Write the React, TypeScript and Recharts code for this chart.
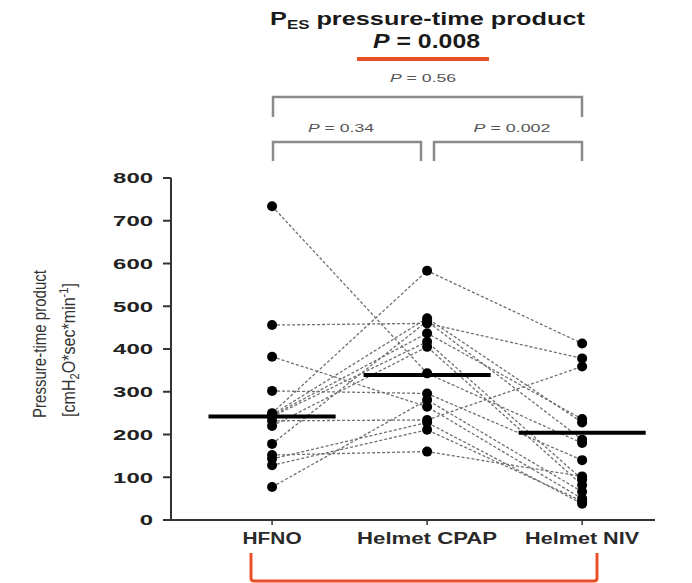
import React from 'react';
import { ComposedChart, Line, XAxis, YAxis, ReferenceLine } from 'recharts';

const categories = ['HFNO', 'Helmet CPAP', 'Helmet NIV'];
// one value per patient, same patient order in each array
const hfno = [734, 456, 382, 302, 250, 246, 244, 242, 232, 220, 178, 143, 128, 152, 77];
const helmetCpap = [343, 460, 265, 296, 583, 472, 437, 417, 234, 405, 465, 228, 211, 160, 281];
const helmetNiv = [180, 378, 50, 140, 413, 228, 236, 95, 359, 82, 188, 38, 44, 102, 66];
const medians = [242, 339, 204];
const yTicks = [0, 100, 200, 300, 400, 500, 600, 700, 800];
const catTicks = [0, 1, 2];
const pComparisons = ['P = 0.56', 'P = 0.34', 'P = 0.002'];
const overallP = 'P = 0.008';

const series = [hfno, helmetCpap, helmetNiv];
const patientKeys = hfno.map((_, k) => 'p' + k);
const rows = categories.map((c, i) => {
  const r: any = { x: i, name: c };
  series[i].forEach((v, k) => { r['p' + k] = v; });
  return r;
});

const FONT = 'Liberation Sans, Arial, Helvetica, sans-serif';
const xLabelWidths = [59, 140, 114];

const YTick = (props: any) => {
  const { x, y, payload } = props;
  const s = String(payload.value);
  return (
    <text x={x} y={y} dy="0.355em" textAnchor="end" fontFamily={FONT} fontWeight="bold"
      fontSize={15} fill="#222" textLength={s.length * 13.3} lengthAdjust="spacingAndGlyphs">{s}</text>
  );
};

const XTick = (props: any) => {
  const { x, y, payload } = props;
  const i = Math.round(payload.value);
  return (
    <text x={x} y={y} dy="0.71em" textAnchor="middle" fontFamily={FONT} fontWeight="bold"
      fontSize={16} fill="#2a2a2a" textLength={xLabelWidths[i]} lengthAdjust="spacingAndGlyphs">{categories[i]}</text>
  );
};

export default function App() {
  return (
    <div style={{ position: 'absolute', left: 0, top: 0, width: 692, height: 583, background: '#fff' }}>
      <ComposedChart width={692} height={583} data={rows}
        margin={{ top: 178, right: 37, bottom: 33, left: 111 }}>
        <XAxis type="number" dataKey="x" domain={[-0.652, 2.47]} ticks={catTicks} allowDataOverflow
          axisLine={{ stroke: '#333', strokeWidth: 2 }} tickLine={{ stroke: '#333', strokeWidth: 1.5 }}
          tickSize={5} tickMargin={8} height={30} tick={<XTick />} interval={0} />
        <YAxis type="number" domain={[0, 800]} ticks={yTicks} width={60}
          axisLine={{ stroke: '#333', strokeWidth: 2 }} tickLine={{ stroke: '#333', strokeWidth: 2 }}
          tickSize={8} tickMargin={10} tick={<YTick />} interval={0} />
        {patientKeys.map((k) => (
          <Line key={k} dataKey={k} type="linear" stroke="#6f6f6f" strokeWidth={1.3} strokeDasharray="3 2"
            dot={{ r: 5, fill: '#000', stroke: '#000', strokeWidth: 0 }} activeDot={false}
            isAnimationActive={false} />
        ))}
        {medians.map((m, i) => (
          <ReferenceLine key={'m' + i} segment={[{ x: i - 0.41, y: m }, { x: i + 0.41, y: m }]}
            stroke="#000" strokeWidth={4} />
        ))}
      </ComposedChart>
      <svg width={692} height={583} style={{ position: 'absolute', left: 0, top: 0, pointerEvents: 'none' }}>
        {/* title */}
        <text x={270} y={25} fontFamily={FONT} fontWeight="bold" fontSize={18} fill="#1a1a1a"
          textLength={315} lengthAdjust="spacingAndGlyphs">
          P<tspan fontSize={12} dy={4}>ES</tspan><tspan dy={-4}> pressure-time product</tspan>
        </text>
        <text x={373} y={48} fontFamily={FONT} fontWeight="bold" fontSize={20} fill="#1a1a1a"
          textLength={107} lengthAdjust="spacingAndGlyphs">
          <tspan fontStyle="italic">P</tspan> = 0.008
        </text>
        <line x1={357} x2={489} y1={59} y2={59} stroke="#e8502a" strokeWidth={4} />
        {/* comparison brackets */}
        <text x={423} y={82} textAnchor="middle" fontFamily={FONT} fontSize={11} fill="#555"
          textLength={66} lengthAdjust="spacingAndGlyphs">
          <tspan fontStyle="italic">P</tspan> = 0.56
        </text>
        <path d="M273 117 V97 H582 V117" fill="none" stroke="#8a8a8a" strokeWidth={2.5} />
        <text x={341} y={132} textAnchor="middle" fontFamily={FONT} fontSize={11} fill="#555"
          textLength={66} lengthAdjust="spacingAndGlyphs">
          <tspan fontStyle="italic">P</tspan> = 0.34
        </text>
        <text x={512} y={132} textAnchor="middle" fontFamily={FONT} fontSize={11} fill="#555"
          textLength={77} lengthAdjust="spacingAndGlyphs">
          <tspan fontStyle="italic">P</tspan> = 0.002
        </text>
        <path d="M273 161 V142 H421 V161" fill="none" stroke="#8a8a8a" strokeWidth={2.5} />
        <path d="M434 161 V142 H582 V161" fill="none" stroke="#8a8a8a" strokeWidth={2.5} />
        {/* y axis label */}
        <text transform="translate(46,344) scale(1.35,1) rotate(-90)" textAnchor="middle" fontFamily={FONT}
          fontSize={13} fill="#333" textLength={148} lengthAdjust="spacingAndGlyphs">Pressure-time product</text>
        <text transform="translate(75,350) scale(1.35,1) rotate(-90)" textAnchor="middle" fontFamily={FONT}
          fontSize={13} fill="#333" textLength={134} lengthAdjust="spacingAndGlyphs">
          [cmH<tspan fontSize={9} dy={3}>2</tspan><tspan dy={-3}>O*sec*min</tspan><tspan fontSize={9} dy={-5}>-1</tspan><tspan dy={5}>]</tspan>
        </text>
        {/* bottom red bracket */}
        <path d="M251 553 V578 Q251 581 254 581 H594 Q597 581 597 578 V553" fill="none" stroke="#e8502a" strokeWidth={3} />
      </svg>
    </div>
  );
}
